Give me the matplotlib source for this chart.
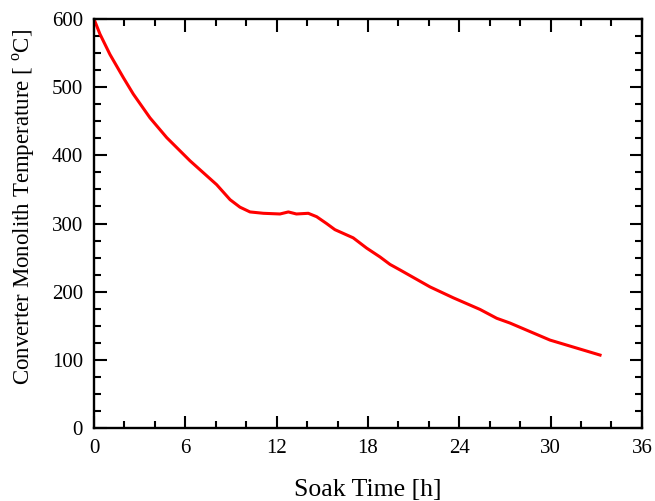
import numpy as np
import matplotlib.pyplot as plt
from matplotlib.ticker import MultipleLocator

# soak time [h] and monolith temperature [C]
soak_time = [0, 0.39, 1.05, 1.93, 2.58, 3.68, 4.78, 6.31, 8.06, 8.94, 9.59,
             10.25, 11.13, 12.22, 12.77, 13.3, 14.08, 14.63, 15.28, 15.83,
             17.03, 17.91, 18.79, 19.45, 20.1, 22.08, 23.61, 25.36, 26.46,
             27.33, 29.96, 33.25]
temperature = [600, 578, 548, 514, 490, 455, 426, 392, 357, 335, 324,
               317, 315, 314, 317, 314, 315, 310, 300, 291,
               279, 264, 251, 240, 232, 207, 191, 174, 161,
               154, 129, 107]

plt.rcParams['font.family'] = 'Liberation Serif'
plt.rcParams['mathtext.fontset'] = 'custom'
plt.rcParams['mathtext.rm'] = 'Liberation Serif'

fig = plt.figure(figsize=(6.55, 5.01), dpi=100)
ax = fig.add_axes([0.1435, 0.1457, 0.8365, 0.8163])
ax.plot(soak_time, temperature, color='#ff0000', lw=2.2)

ax.set_xlim(0, 36)
ax.set_ylim(0, 600)
ax.xaxis.set_major_locator(MultipleLocator(6))
ax.xaxis.set_minor_locator(MultipleLocator(2))
ax.yaxis.set_major_locator(MultipleLocator(100))
ax.yaxis.set_minor_locator(MultipleLocator(25))
ax.tick_params(which='both', direction='in', top=True, right=True,
               width=1.5, labelsize=15)
ax.tick_params(which='major', length=9, pad=8)
ax.tick_params(which='minor', length=5)
for s in ax.spines.values():
    s.set_linewidth(1.7)

ax.set_xlabel('Soak Time [h]', fontsize=18.5, labelpad=15)
ax.set_ylabel(r'Converter Monolith Temperature [ $^{\mathrm{o}}$C]', fontsize=16.5)
ax.yaxis.set_label_coords(-0.104, 0.54)

fig.savefig('out.png', dpi=100)
